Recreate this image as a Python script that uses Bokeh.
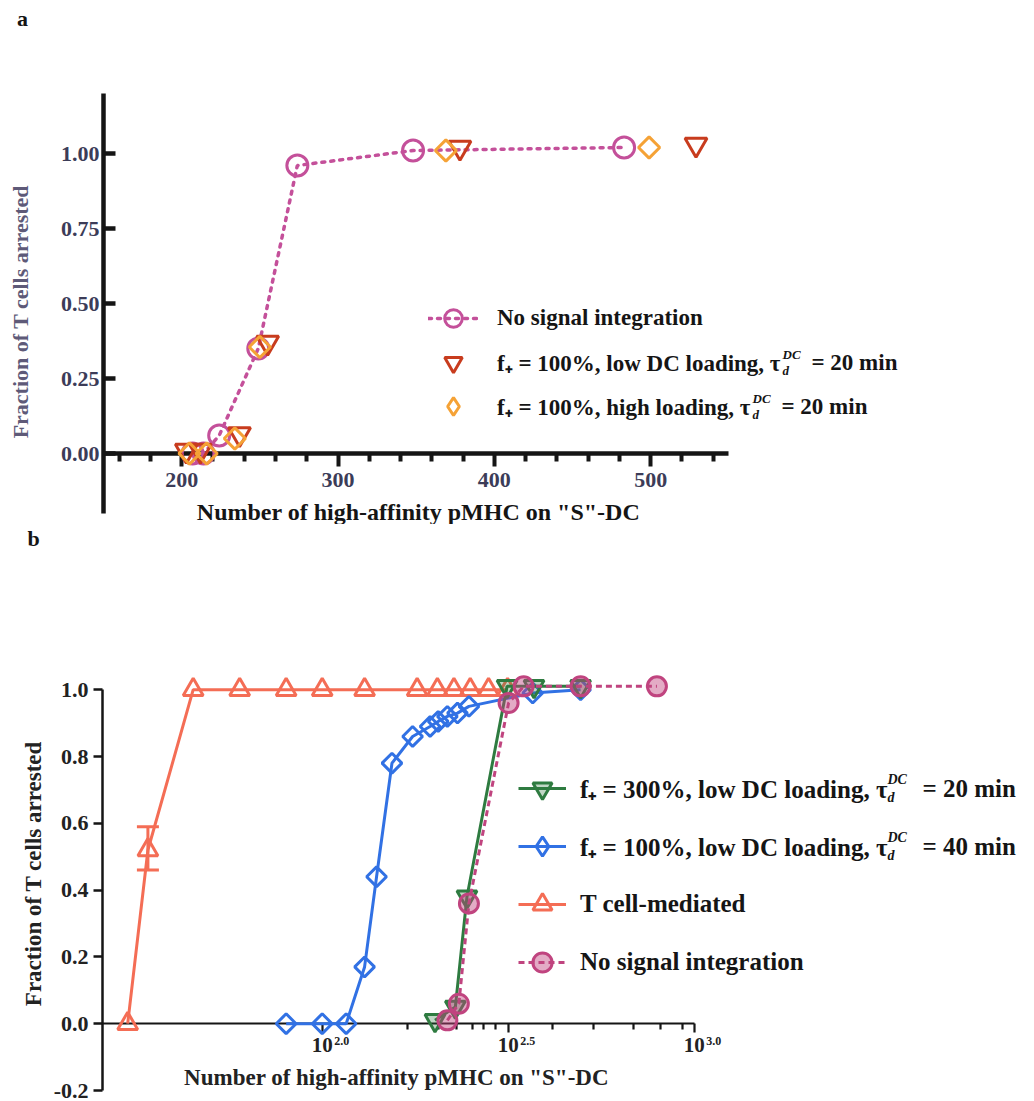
import numpy as np
from bokeh.plotting import figure
from bokeh.layouts import column
from bokeh.models import (Range1d, LinearAxis, LogAxis, FixedTicker, NumeralTickFormatter,
                          CustomJSTickFormatter, Label, Legend, LegendItem, Whisker, TeeHead,
                          ColumnDataSource)
from bokeh.embed import file_html
from bokeh.resources import INLINE

SERIF = "Liberation Serif"

# ---------------- data : panel a ----------------
a_noint_x = [207, 214, 224, 249, 274, 348, 483]
a_noint_y = [0.0, 0.0, 0.06, 0.35, 0.96, 1.01, 1.02]
a_low_x = [203, 212, 237, 255, 378, 529]
a_low_y = [0.01, 0.01, 0.065, 0.37, 1.02, 1.03]
a_high_x = [205, 216, 234, 250, 369, 499]
a_high_y = [0.0, 0.0, 0.05, 0.355, 1.01, 1.02]
a_xticks = [200, 300, 400, 500]
a_xminor = [160, 180, 220, 240, 260, 280, 320, 340, 360, 380, 420, 440, 460, 480, 520, 540]
a_yticks = [0.0, 0.25, 0.5, 0.75, 1.0]
a_labels = ["No signal integration",
            "f\u208a = 100%, low DC loading, \u03c4",
            "f\u208a = 100%, high loading, \u03c4"]

# ---------------- data : panel b ----------------
b_tcell_x = [30, 34, 45, 60, 80, 100, 130, 180, 204, 226, 250, 280, 315]
b_tcell_y = [0.0, 0.52, 1, 1, 1, 1, 1, 1, 1, 1, 1, 1, 1]
b_err_x = [34]
b_err_lo = [0.46]
b_err_hi = [0.59]
b_f40_x = [80, 100, 116, 130, 140, 154, 175, 195, 205, 217, 231, 248, 368, 495]
b_f40_y = [0.0, 0.0, 0.0, 0.17, 0.44, 0.78, 0.86, 0.89, 0.905, 0.92, 0.93, 0.95, 0.99, 1.0]
b_f300_x = [201, 228, 245, 314, 371, 495]
b_f300_y = [0.01, 0.05, 0.38, 1.01, 1.01, 1.01]
b_noint_x = [217, 233, 248, 317, 348, 495, 794]
b_noint_y = [0.01, 0.06, 0.36, 0.96, 1.01, 1.01, 1.01]
b_xticks = [100, 10 ** 2.5, 1000]
b_xtick_exp = ["2.0", "2.5", "3.0"]
b_xminor = [170, 205, 230, 253, 272, 292, 415, 535, 685, 810, 930]
b_yticks = [-0.2, 0.0, 0.2, 0.4, 0.6, 0.8, 1.0]
b_labels = ["f\u208a = 300%, low DC loading, \u03c4",
            "f\u208a = 100%, low DC loading, \u03c4",
            "T cell-mediated",
            "No signal integration"]

XTITLE = 'Number of high-affinity pMHC on "S"-DC'
YTITLE = "Fraction of T cells arrested"

# ---------------- colours ----------------
MAG_A = "#C4509A"
RED_A = "#C83C1E"
ORG_A = "#F5A236"
GREEN_B = "#2E7B40"
BLUE_B = "#3171E4"
TC_B = "#F46D55"
MAG_B = "#C0447F"
DARK = "#151515"
SLATE = "#3C3C58"

# ---------------- geometry (page pixels) ----------------
W = 1034
PAGE_H = 1101
A_H = 524
B_H = PAGE_H - A_H

a_ppu = (651 - 182) / 300.0
a_xleft = 150 - 103 / a_ppu
a_xright = 150 + (W - 103) / a_ppu
a_ypu = 300.0
a_ybot = -0.2 - (A_H - 513) / a_ypu
a_ytop = -0.2 + 513 / a_ypu

b_ppd = 372.0
b_l0 = 2 - (321.7 - 102) / b_ppd
b_lleft = b_l0 - 102 / b_ppd
b_lright = b_l0 + (W - 102) / b_ppd
b_ypu = 334.0
b_ybot = -0.2 - (PAGE_H - 1090) / b_ypu
b_ytop = -0.2 + (1090 - A_H) / b_ypu


def sa(X, Y):
    return X, A_H - Y


def sb(X, Y):
    return X, PAGE_H - Y


def add_label(p, conv, X, Y, text, size, style="bold", align="left", color=DARK, angle=0.0):
    sx, sy = conv(X, Y)
    p.add_layout(Label(x=sx, y=sy, x_units="screen", y_units="screen", text=text,
                       text_font=SERIF, text_font_size=f"{size}px", text_font_style=style,
                       text_align=align, text_baseline="middle", text_color=color,
                       angle=angle))


def base_fig(h, xr, yr, xtype="linear"):
    p = figure(width=W, height=h, x_range=xr, y_range=yr, x_axis_type=xtype,
               x_axis_location=None, y_axis_location=None, output_backend="svg",
               toolbar_location=None, min_border=0)
    p.grid.visible = False
    p.outline_line_color = None
    return p


NAN = [float("nan")]

# =============== panel a ===============
pa = base_fig(A_H, Range1d(a_xleft, a_xright), Range1d(a_ybot, a_ytop))

ya = LinearAxis(ticker=FixedTicker(ticks=a_yticks), formatter=NumeralTickFormatter(format="0.00"),
                fixed_location=150, bounds=(-0.2, 1.2), axis_line_width=4.5,
                axis_line_color=DARK, major_tick_in=12, major_tick_out=0,
                major_tick_line_width=4.5, major_tick_line_color=DARK,
                minor_tick_line_color=None,
                major_label_text_font=SERIF, major_label_text_font_style="bold",
                major_label_text_font_size="22px", major_label_text_color=SLATE,
                major_label_standoff=4)
pa.add_layout(ya, "left")

xa = LinearAxis(ticker=FixedTicker(ticks=a_xticks, minor_ticks=a_xminor), fixed_location=0,
                bounds=(150, 550), axis_line_width=4.5, axis_line_color=DARK,
                major_tick_in=0, major_tick_out=13, minor_tick_in=0, minor_tick_out=8,
                major_tick_line_width=4, minor_tick_line_width=4,
                major_tick_line_color=DARK, minor_tick_line_color=DARK,
                major_label_text_font=SERIF, major_label_text_font_style="bold",
                major_label_text_font_size="22px", major_label_text_color=SLATE,
                major_label_standoff=6)
pa.add_layout(xa, "below")

add_label(pa, sa, 418, 511, XTITLE, 24, align="center")
add_label(pa, sa, 20, 311, YTITLE, 22, align="center", color="#5E5A78", angle=np.pi / 2)

la_line = pa.line(a_noint_x, a_noint_y, line_color=MAG_A, line_width=3.5, line_dash="3 6",
                  line_cap="round", level="overlay")
la_c = pa.scatter(a_noint_x, a_noint_y, marker="circle", size=21, line_color=MAG_A,
                  fill_color=None, line_width=3, level="overlay")
la_t = pa.scatter(a_low_x, a_low_y, marker="inverted_triangle", size=22, line_color=RED_A,
                  fill_color=None, line_width=3, level="overlay")
la_d = pa.scatter(a_high_x, a_high_y, marker="square", angle=np.pi / 4, size=15,
                  line_color=ORG_A, fill_color=None, line_width=3, level="overlay")
# legend key for the diamonds (legend keys ignore marker rotation); NaN -> not drawn in plot
la_dkey = pa.scatter(x=NAN, y=NAN, marker="diamond", size=22, line_color=ORG_A,
                     fill_color=None, line_width=3)

leg_a = Legend(items=[LegendItem(label=a_labels[0], renderers=[la_line, la_c]),
                      LegendItem(label=a_labels[1], renderers=[la_t]),
                      LegendItem(label=a_labels[2], renderers=[la_dkey])],
               location=sa(428, 428), padding=0, margin=0,
               glyph_width=50, glyph_height=44, label_height=44, spacing=0,
               label_standoff=19, border_line_color=None, background_fill_alpha=0,
               label_text_font=SERIF, label_text_font_style="bold",
               label_text_font_size="23px", label_text_color=DARK)
pa.add_layout(leg_a)

for (yrow, xend) in [(362, 781), (406, 751)]:
    add_label(pa, sa, xend + 1, yrow - 8, "DC", 13, style="bold italic")
    add_label(pa, sa, xend + 1, yrow + 8, "d", 13, style="bold italic")
    add_label(pa, sa, xend + 30, yrow, "= 20 min", 23)

add_label(pa, sa, 22, 18, "a", 22, align="center")

# =============== panel b ===============
pb = base_fig(B_H, Range1d(10 ** b_lleft, 10 ** b_lright), Range1d(b_ybot, b_ytop), xtype="log")

yb = LinearAxis(ticker=FixedTicker(ticks=b_yticks), formatter=NumeralTickFormatter(format="0.0"),
                fixed_location=10 ** b_l0, bounds=(-0.2, 1.0), axis_line_width=2.5,
                axis_line_color=DARK, major_tick_in=0, major_tick_out=9,
                major_tick_line_width=2.5, major_tick_line_color=DARK,
                minor_tick_line_color=None,
                major_label_text_font=SERIF, major_label_text_font_style="bold",
                major_label_text_font_size="22px", major_label_text_color="#222222",
                major_label_standoff=5)
pb.add_layout(yb, "left")

xb = LogAxis(ticker=FixedTicker(ticks=b_xticks, minor_ticks=b_xminor), fixed_location=0,
             formatter=CustomJSTickFormatter(code="return '10';"),
             bounds=(10 ** b_l0, 1000), axis_line_width=2.2, axis_line_color=DARK,
             major_tick_in=0, major_tick_out=9, minor_tick_in=0, minor_tick_out=6,
             major_tick_line_width=2.2, minor_tick_line_width=2.2,
             major_tick_line_color=DARK, minor_tick_line_color=DARK,
             major_label_text_font=SERIF, major_label_text_font_style="bold",
             major_label_text_font_size="21px", major_label_text_color="#222222",
             major_label_standoff=5)
pb.add_layout(xb, "below")

for t, e in zip(b_xticks, b_xtick_exp):
    pb.add_layout(Label(x=t, y=0, x_units="data", y_units="data", text=e, x_offset=12,
                        y_offset=-17, text_font=SERIF, text_font_size="12px",
                        text_font_style="bold", text_baseline="middle", text_align="left",
                        text_color="#222222"))

add_label(pb, sb, 396, 1077, XTITLE, 23, align="center", color="#222222")
add_label(pb, sb, 33, 873, YTITLE, 23, align="center", color="#222222", angle=np.pi / 2)

# T cell-mediated
lb_tc = pb.line(b_tcell_x, b_tcell_y, line_color=TC_B, line_width=3, level="overlay")
sb_tc = pb.scatter(b_tcell_x, b_tcell_y, marker="triangle", size=20, line_color=TC_B,
                   fill_color=None, line_width=3, level="overlay")
err_src = ColumnDataSource(dict(base=b_err_x, lower=b_err_lo, upper=b_err_hi))
pb.add_layout(Whisker(source=err_src, base="base", lower="lower", upper="upper",
                      dimension="height", line_color=TC_B, line_width=3, level="overlay",
                      upper_head=TeeHead(size=22, line_color=TC_B, line_width=3),
                      lower_head=TeeHead(size=22, line_color=TC_B, line_width=3)))
# f+ = 100 %, 40 min
lb_bl = pb.line(b_f40_x, b_f40_y, line_color=BLUE_B, line_width=3, level="overlay")
sb_bl = pb.scatter(b_f40_x, b_f40_y, marker="square", angle=np.pi / 4, size=14,
                   line_color=BLUE_B, fill_color=None, line_width=3, level="overlay")
sb_blkey = pb.scatter(x=NAN, y=NAN, marker="diamond", size=22, line_color=BLUE_B,
                      fill_color=None, line_width=3)
# f+ = 300 %, 20 min
lb_gr = pb.line(b_f300_x, b_f300_y, line_color=GREEN_B, line_width=3, level="overlay")
sb_gr = pb.scatter(b_f300_x, b_f300_y, marker="inverted_triangle", size=20,
                   line_color=GREEN_B, fill_color=GREEN_B, fill_alpha=0.3, line_width=3,
                   level="overlay")
# no signal integration
lb_mg = pb.line(b_noint_x, b_noint_y, line_color=MAG_B, line_width=3, line_dash="6 4",
                level="overlay")
sb_mg = pb.scatter(b_noint_x, b_noint_y, marker="circle", size=19, line_color=MAG_B,
                   fill_color=MAG_B, fill_alpha=0.45, line_width=3, level="overlay")

leg_b = Legend(items=[LegendItem(label=b_labels[0], renderers=[lb_gr, sb_gr]),
                      LegendItem(label=b_labels[1], renderers=[lb_bl, sb_blkey]),
                      LegendItem(label=b_labels[2], renderers=[lb_tc, sb_tc]),
                      LegendItem(label=b_labels[3], renderers=[lb_mg, sb_mg])],
               location=sb(518, 988), padding=0, margin=0,
               glyph_width=48, glyph_height=52, label_height=52, spacing=6,
               label_standoff=14, border_line_color=None, background_fill_alpha=0,
               label_text_font=SERIF, label_text_font_style="bold",
               label_text_font_size="25px", label_text_color=DARK)
pb.add_layout(leg_b)

for (yrow, xend, txt) in [(788, 886, "= 20 min"), (846, 886, "= 40 min")]:
    add_label(pb, sb, xend + 1, yrow - 9, "DC", 14, style="bold italic")
    add_label(pb, sb, xend + 1, yrow + 9, "d", 14, style="bold italic")
    add_label(pb, sb, xend + 36, yrow, txt, 25)

add_label(pb, sb, 33, 538, "b", 22, align="center")

layout = column(pa, pb, spacing=0)
open("out.html", "w").write(file_html(layout, INLINE))
